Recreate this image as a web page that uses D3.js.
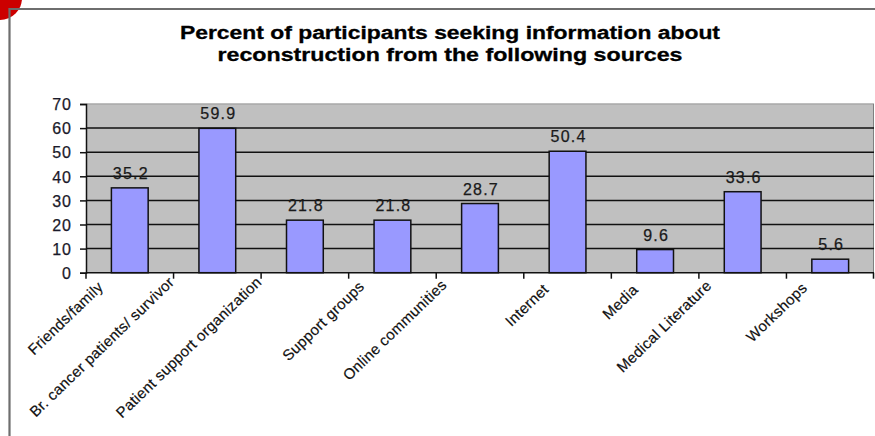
<!DOCTYPE html>
<html>
<head>
<meta charset="utf-8">
<script src="https://cdn.jsdelivr.net/npm/d3@7"></script>
<style>
  html, body { margin: 0; padding: 0; background: #fff; }
  svg { display: block; }
  text { font-family: "Liberation Sans", Arial, sans-serif; fill: #1a1a1a; }
</style>
</head>
<body>
<svg id="chart" width="875" height="436"></svg>
<script>
const titleLines = ["Percent of participants seeking information about",
                    "reconstruction from the following sources"];
const categories = ["Friends/family", "Br. cancer patients/ survivor", "Patient support organization",
                    "Support groups", "Online communities", "Internet", "Media",
                    "Medical Literature", "Workshops"];
const values = [35.2, 59.9, 21.8, 21.8, 28.7, 50.4, 9.6, 33.6, 5.6];
const yTicks = [0, 10, 20, 30, 40, 50, 60, 70];

const svg = d3.select("#chart");
const W = 875, H = 436;
const plot = { left: 86, right: 874, top: 104, bottom: 272.7 };

// slide decoration: red corner and frame
svg.append("circle").attr("cx", 0).attr("cy", -2).attr("r", 22).attr("fill", "#cc0000");
svg.append("path")
  .attr("d", `M9.5,${H} L9.5,9 L${W},9`)
  .attr("fill", "none").attr("stroke", "#6e6e6e").attr("stroke-width", 2.2);

// title
const tl = [{ t: titleLines[0], y: 39, len: 540 }, { t: titleLines[1], y: 61, len: 465 }];
svg.selectAll("text.title").data(tl).join("text")
  .attr("class", "title")
  .attr("x", 450).attr("y", d => d.y)
  .attr("text-anchor", "middle")
  .attr("textLength", d => d.len).attr("lengthAdjust", "spacingAndGlyphs")
  .style("font-size", "18px").style("font-weight", "bold").style("fill", "#000")
  .style("stroke", "#000").style("stroke-width", "0.3px")
  .text(d => d.t);

const x = d3.scaleBand().domain(categories).range([plot.left, plot.right])
  .paddingInner(0.58).paddingOuter(0.29);
const y = d3.scaleLinear().domain([0, 70]).range([plot.bottom, plot.top]);

// plot background
svg.append("rect")
  .attr("x", plot.left).attr("y", plot.top)
  .attr("width", plot.right - plot.left).attr("height", plot.bottom - plot.top)
  .attr("fill", "#c0c0c0");
svg.append("line").attr("x1", plot.left).attr("x2", plot.right)
  .attr("y1", plot.top).attr("y2", plot.top).attr("stroke", "#a8a8a8").attr("stroke-width", 1.5);
svg.append("line").attr("x1", plot.right - 0.5).attr("x2", plot.right - 0.5)
  .attr("y1", plot.top).attr("y2", plot.bottom).attr("stroke", "#808080").attr("stroke-width", 1);

// gridlines
svg.append("g").selectAll("line").data(yTicks.filter(t => t > 0 && t < 70)).join("line")
  .attr("x1", plot.left).attr("x2", plot.right)
  .attr("y1", d => y(d)).attr("y2", d => y(d))
  .attr("stroke", "#111").attr("stroke-width", 1.5);

// bars
svg.append("g").selectAll("rect").data(values).join("rect")
  .attr("x", (d, i) => x(categories[i]))
  .attr("y", d => y(d))
  .attr("width", x.bandwidth())
  .attr("height", d => y(0) - y(d))
  .attr("fill", "#9999ff").attr("stroke", "#111").attr("stroke-width", 1.5);

// value labels
svg.append("g").selectAll("text").data(values).join("text")
  .attr("x", (d, i) => x(categories[i]) + x.bandwidth() / 2 + 1)
  .attr("y", d => y(d) - 9)
  .attr("text-anchor", "middle")
  .style("font-size", "16px").style("letter-spacing", "1.2px")
  .style("stroke", "#1a1a1a").style("stroke-width", "0.25px")
  .text(d => d.toFixed(1));

// y axis
const yAxis = d3.axisLeft(y).tickValues(yTicks).tickSize(6).tickPadding(8);
const gy = svg.append("g").attr("transform", `translate(${plot.left},0)`).call(yAxis);
gy.select(".domain").attr("stroke", "#111").attr("stroke-width", 1.5);
gy.selectAll(".tick line").attr("stroke", "#111").attr("stroke-width", 1.5);
gy.selectAll(".tick text").style("font-size", "16px").style("letter-spacing", "1px")
  .style("fill", "#1a1a2a").style("stroke", "#1a1a2a").style("stroke-width", "0.25px")
  .attr("font-family", null).attr("dy", "0.36em");

// x axis line and boundary ticks
const bounds = categories.map(c => x(c) + x.bandwidth() / 2 - x.step() / 2).concat([plot.right - 0.5]);
svg.append("line").attr("x1", plot.left).attr("x2", plot.right)
  .attr("y1", plot.bottom).attr("y2", plot.bottom).attr("stroke", "#111").attr("stroke-width", 1.5);
svg.append("g").selectAll("line").data(bounds).join("line")
  .attr("x1", d => d).attr("x2", d => d)
  .attr("y1", plot.bottom).attr("y2", plot.bottom + 6)
  .attr("stroke", "#111").attr("stroke-width", 1.5);

// rotated category labels
const ang = -44;
const cosA = Math.cos(Math.abs(ang) * Math.PI / 180);
const labs = svg.append("g").selectAll("text").data(categories).join("text")
  .attr("text-anchor", "end")
  .style("font-size", "15px").style("letter-spacing", "0.3px")
  .style("fill", "#111").style("stroke", "#111").style("stroke-width", "0.2px")
  .text(d => d);
labs.each(function (d, i) {
  const L = this.getComputedTextLength();
  const w = L * cosA;
  const ex = bounds[i] + 35 - 0.24 * w;
  const ey = 293 - 0.07 * w;
  d3.select(this).attr("transform", `translate(${ex},${ey}) rotate(${ang})`);
});
</script>
</body>
</html>
